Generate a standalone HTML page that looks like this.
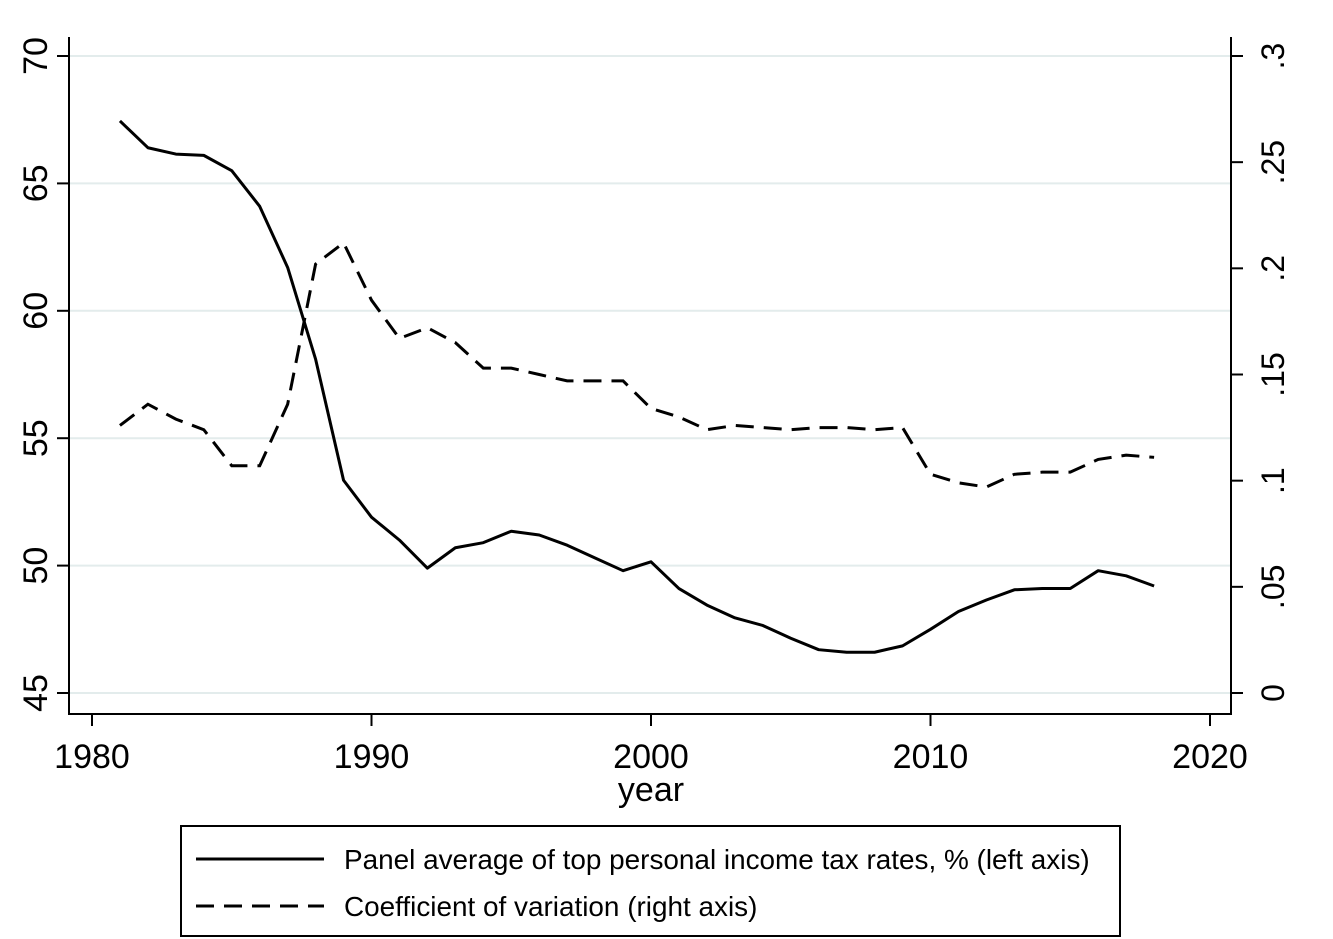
<!DOCTYPE html>
<html><head><meta charset="utf-8"><style>
html,body{margin:0;padding:0;background:#fff;}
svg{display:block;font-family:"Liberation Sans",Arial,sans-serif;}
</style></head><body>
<svg id="chart" width="1333" height="939" viewBox="0 0 1333 939">
<g id="grid"></g>
<g id="axes"></g>
<g id="series"></g>
<g>
<rect x="181" y="826" width="939" height="110" fill="#fff" stroke="#000" stroke-width="2"/>
<line x1="196" y1="859" x2="324" y2="859" stroke="#000" stroke-width="3"/>
<text x="344" y="869" font-size="27.9">Panel average of top personal income tax rates, % (left axis)</text>
<line x1="196" y1="906" x2="324" y2="906" stroke="#000" stroke-width="3" stroke-dasharray="18,10"/>
<text x="344" y="916" font-size="27.9">Coefficient of variation (right axis)</text>
</g>
</svg>
<script>
const years=[1981,1982,1983,1984,1985,1986,1987,1988,1989,1990,1991,1992,1993,1994,1995,1996,1997,1998,1999,2000,2001,2002,2003,2004,2005,2006,2007,2008,2009,2010,2011,2012,2013,2014,2015,2016,2017,2018];
const taxRate=[67.45,66.4,66.15,66.1,65.5,64.1,61.7,58.1,53.35,51.9,51.0,49.9,50.7,50.9,51.35,51.2,50.8,50.3,49.8,50.15,49.1,48.45,47.95,47.65,47.15,46.7,46.6,46.6,46.85,47.5,48.2,48.65,49.05,49.1,49.1,49.8,49.6,49.2];
const cv=[.126,.136,.129,.124,.107,.107,.136,.202,.212,.185,.167,.172,.165,.153,.153,.150,.147,.147,.147,.134,.130,.124,.126,.125,.124,.125,.125,.124,.125,.103,.099,.097,.103,.104,.104,.110,.112,.111];
const xTicks=[1980,1990,2000,2010,2020];
const leftTicks=[45,50,55,60,65,70];
const rightTicks=[0,.05,.1,.15,.2,.25,.3];
const rightLabels=["0",".05",".1",".15",".2",".25",".3"];
const NS="http://www.w3.org/2000/svg";
const X=v=>92+(v-1980)*(1210-92)/40;
const YL=v=>693-(v-45)*(637/25);
const YR=v=>693-v*(637/0.3);
function mk(tag,attrs,parent,text){const e=document.createElementNS(NS,tag);for(const k in attrs)e.setAttribute(k,attrs[k]);if(text!==undefined)e.textContent=text;parent.appendChild(e);return e;}
const grid=document.getElementById('grid'),axes=document.getElementById('axes'),series=document.getElementById('series');
leftTicks.forEach(t=>{
 const g=mk('line',{x1:69,x2:1231,y1:YL(t),y2:YL(t),stroke:'#e3ecec','stroke-width':2},grid);
 
 
 const tk=mk('line',{x1:57,x2:69,y1:YL(t),y2:YL(t),stroke:'#000','stroke-width':2},axes);
 
 
 const tx=mk('text',{x:0,y:0,'font-size':34,'text-anchor':'middle',transform:`translate(47,${YL(t)}) rotate(-90)`},axes,String(t));
 
 
});
rightTicks.forEach((t,i)=>{
 const tk=mk('line',{x1:1231,x2:1243,y1:YR(t),y2:YR(t),stroke:'#000','stroke-width':2},axes);
 
 
 const tx=mk('text',{x:0,y:0,'font-size':32,'text-anchor':'middle',transform:`translate(1284,${YR(t)}) rotate(-90)`},axes,rightLabels[i]);
 
 
});
xTicks.forEach(t=>{
 const tk=mk('line',{x1:X(t),x2:X(t),y1:714,y2:726,stroke:'#000','stroke-width':2},axes);
 
 
 const tx=mk('text',{x:X(t),y:768,'font-size':34,'text-anchor':'middle'},axes,String(t));
 
 
});
const la=mk('line',{x1:69,x2:69,y1:37,y2:715,stroke:'#000','stroke-width':2},axes);


const ra=mk('line',{x1:1231,x2:1231,y1:37,y2:715,stroke:'#000','stroke-width':2},axes);


const xa=mk('line',{x1:68,x2:1232,y1:714,y2:714,stroke:'#000','stroke-width':2},axes);


const xt=mk('text',{x:651,y:801,'font-size':34,'text-anchor':'middle'},axes,'year');


const p1=mk('polyline',{points:years.map((y,i)=>X(y)+','+YL(taxRate[i])).join(' '),fill:'none',stroke:'#000','stroke-width':3,'stroke-linejoin':'round'},series);


const p2=mk('polyline',{points:years.map((y,i)=>X(y)+','+YR(cv[i])).join(' '),fill:'none',stroke:'#000','stroke-width':3,'stroke-dasharray':'18,10'},series);


</script>
</body></html>
